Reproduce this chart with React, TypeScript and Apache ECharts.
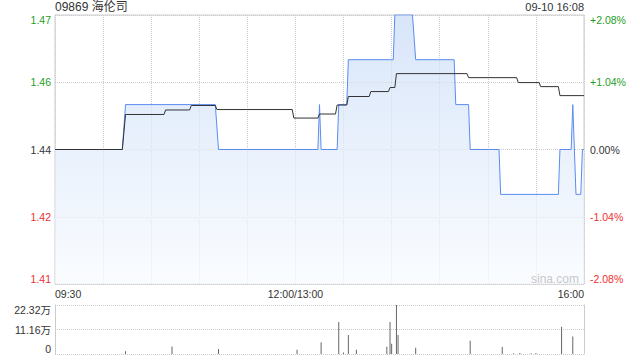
import React, { useEffect, useRef } from 'react';
import * as echarts from 'echarts';

const stockTitle = '09869 海伦司';
const timeStamp = '09-10 16:08';
const watermark = 'sina.com';
const prevClose = 1.44;

// minute index from 09:30 (0) to 16:00 (330), lunch break removed
const priceMinutes = [0, 42, 44, 100, 102, 164, 165, 166, 176, 177, 182, 183, 211, 212, 223, 225, 249, 250, 258, 259, 277, 278, 314, 315, 322, 323, 325, 328, 329, 330];
const priceValues = [1.44, 1.44, 1.45, 1.45, 1.44, 1.44, 1.45, 1.44, 1.44, 1.45, 1.45, 1.46, 1.46, 1.47, 1.47, 1.46, 1.46, 1.45, 1.45, 1.44, 1.44, 1.43, 1.43, 1.44, 1.44, 1.45, 1.43, 1.43, 1.44, 1.44];

const avgMinutes = [0, 42, 44, 68, 69, 84, 85, 100, 101, 148, 149, 164, 165, 175, 176, 182, 183, 196, 197, 208, 209, 212, 213, 257, 258, 288, 289, 302, 303, 314, 315, 330];
const avgValues = [1.44, 1.44, 1.4478, 1.4478, 1.4488, 1.4488, 1.4498, 1.4498, 1.4489, 1.4489, 1.447, 1.447, 1.4479, 1.4479, 1.4499, 1.4499, 1.4518, 1.4518, 1.4529, 1.4529, 1.4538, 1.4538, 1.4569, 1.4569, 1.456, 1.456, 1.4549, 1.4549, 1.454, 1.454, 1.452, 1.452];

const volMinutes = [44, 73, 102, 151, 166, 177, 180, 183, 188, 207, 209, 210, 213, 214, 225, 259, 279, 286, 290, 297, 300, 316, 323];
const volValues = [12000, 34000, 22600, 19500, 54000, 146000, 7000, 87000, 19500, 33000, 146000, 46600, 223200, 87000, 28500, 60000, 31700, 3000, 4000, 3500, 5000, 123600, 80000];

const pctTicks = [-2.08, -1.04, 0, 1.04, 2.08];
const priceTickLabels = ['1.41', '1.42', '1.44', '1.46', '1.47'];
const pctTickLabels = ['-2.08%', '-1.04%', '0.00%', '+1.04%', '+2.08%'];

const volTicks = [0, 111600, 223200];
const volTickLabels = ['0', '11.16万', '22.32万'];

const timeTickMinutes = [0, 150, 330];
const timeTickLabels = ['09:30', '12:00/13:00', '16:00'];

const FONT = '"Liberation Sans", Arial, "Noto Sans CJK SC", sans-serif';

function toPct(p: number) {
  return ((p - prevClose) / prevClose) * 100;
}

function tickIndex(arr: number[], v: number) {
  return arr.findIndex((t) => Math.abs(t - v) < 1e-6);
}

function labelStyle(color: string) {
  return { color, fontSize: 10.5, fontFamily: FONT };
}

export default function App() {
  const ref = useRef<HTMLDivElement>(null);

  useEffect(() => {
    if (!ref.current) return;
    const chart = echarts.init(ref.current, undefined, { renderer: 'svg' });

    const rich = {
      up: labelStyle('#1f9e1f'),
      flat: labelStyle('#333'),
      down: labelStyle('#ee3030'),
    };
    const cls = (v: number) => (v > 1e-6 ? 'up' : v < -1e-6 ? 'down' : 'flat');

    const priceData = priceMinutes.map((m, i) => [m, toPct(priceValues[i])]);
    const avgData = avgMinutes.map((m, i) => [m, toPct(avgValues[i])]);
    const volData = volMinutes.map((m, i) => [m, volValues[i]]);

    const dotted = { color: '#cccccc', width: 1, type: [1, 1] as any };

    chart.setOption({
      animation: false,
      backgroundColor: '#ffffff',
      textStyle: { fontFamily: FONT },
      title: [
        {
          text: stockTitle,
          left: 55,
          top: 1,
          padding: 0,
          textStyle: { fontSize: 12, fontWeight: 'normal', color: '#333', fontFamily: FONT },
        },
        {
          text: timeStamp,
          right: 56,
          top: 1,
          padding: 0,
          textStyle: { fontSize: 11, fontWeight: 'normal', color: '#333', fontFamily: FONT },
        },
      ],
      grid: [
        { left: 55, top: 15, width: 529, height: 269, show: true, borderColor: '#cccccc', borderWidth: 1 },
        { left: 55, top: 305, width: 529, height: 49 },
      ],
      xAxis: [
        {
          gridIndex: 0,
          type: 'value',
          min: 0,
          max: 330,
          interval: 30,
          axisLine: { show: false },
          axisTick: { show: false },
          splitLine: { show: true, lineStyle: dotted },
          axisLabel: {
            margin: 5,
            fontSize: 10.5,
            color: '#333',
            fontFamily: FONT,
            alignMinLabel: 'left',
            alignMaxLabel: 'right',
            showMinLabel: true,
            showMaxLabel: true,
            formatter: (v: number) => {
              const i = tickIndex(timeTickMinutes, v);
              return i >= 0 ? timeTickLabels[i] : '';
            },
          },
        },
        {
          gridIndex: 1,
          type: 'value',
          min: 0,
          max: 330,
          show: false,
        },
      ],
      yAxis: [
        {
          gridIndex: 0,
          type: 'value',
          position: 'left',
          min: -2.08,
          max: 2.08,
          interval: 1.04,
          axisLine: { show: false },
          axisTick: { show: false },
          splitLine: { show: true, lineStyle: dotted },
          axisLabel: {
            margin: 4,
            fontSize: 10.5,
            verticalAlignMinLabel: 'bottom',
            verticalAlignMaxLabel: 'top',
            formatter: (v: number) => {
              const i = tickIndex(pctTicks, v);
              return i >= 0 ? `{${cls(v)}|${priceTickLabels[i]}}` : '';
            },
            rich,
          },
        },
        {
          gridIndex: 0,
          type: 'value',
          position: 'right',
          min: -2.08,
          max: 2.08,
          interval: 1.04,
          axisLine: { show: false },
          axisTick: { show: false },
          splitLine: { show: false },
          axisLabel: {
            margin: 6,
            fontSize: 10.5,
            verticalAlignMinLabel: 'bottom',
            verticalAlignMaxLabel: 'top',
            formatter: (v: number) => {
              const i = tickIndex(pctTicks, v);
              return i >= 0 ? `{${cls(v)}|${pctTickLabels[i]}}` : '';
            },
            rich,
          },
        },
        {
          gridIndex: 1,
          type: 'value',
          position: 'left',
          min: 0,
          max: volTicks[2],
          interval: volTicks[1],
          axisLine: { show: true, lineStyle: { color: '#cccccc' } },
          axisTick: { show: false },
          splitLine: { show: true, lineStyle: dotted },
          axisLabel: {
            margin: 4,
            fontSize: 10.5,
            color: '#333',
            fontFamily: FONT,
            verticalAlignMinLabel: 'bottom',
            verticalAlignMaxLabel: 'top',
            formatter: (v: number) => {
              const i = tickIndex(volTicks, v);
              return i >= 0 ? volTickLabels[i] : '';
            },
          },
        },
        {
          gridIndex: 1,
          type: 'value',
          position: 'right',
          min: 0,
          max: volTicks[2],
          interval: volTicks[1],
          axisLine: { show: true, lineStyle: { color: '#cccccc' } },
          axisTick: { show: false },
          axisLabel: { show: false },
          splitLine: { show: false },
        },
      ],
      graphic: [
        {
          type: 'text',
          x: 579,
          y: 279,
          z: 10,
          style: {
            text: watermark,
            align: 'right',
            verticalAlign: 'middle',
            fill: '#c8c8c8',
            fontSize: 12,
            fontFamily: FONT,
          },
        },
      ],
      series: [
        {
          type: 'line',
          xAxisIndex: 0,
          yAxisIndex: 0,
          data: priceData,
          showSymbol: false,
          symbol: 'none',
          z: 2,
          lineStyle: { color: '#5a8cf0', width: 1 },
          areaStyle: {
            origin: 'start',
            color: new echarts.graphic.LinearGradient(0, 0, 0, 1, [
              { offset: 0, color: '#c8dbf7' },
              { offset: 1, color: '#f8fbff' },
            ]),
          },
        },
        {
          type: 'line',
          xAxisIndex: 0,
          yAxisIndex: 0,
          data: avgData,
          showSymbol: false,
          symbol: 'none',
          z: 3,
          lineStyle: { color: '#333333', width: 1 },
        },
        {
          type: 'bar',
          xAxisIndex: 1,
          yAxisIndex: 2,
          data: volData,
          barWidth: 1,
          itemStyle: { color: '#666666' },
        },
      ],
    });

    return () => {
      chart.dispose();
    };
  }, []);

  return (
    <div
      ref={ref}
      style={{ position: 'fixed', left: 0, top: 0, width: 640, height: 360, background: '#fff' }}
    />
  );
}
